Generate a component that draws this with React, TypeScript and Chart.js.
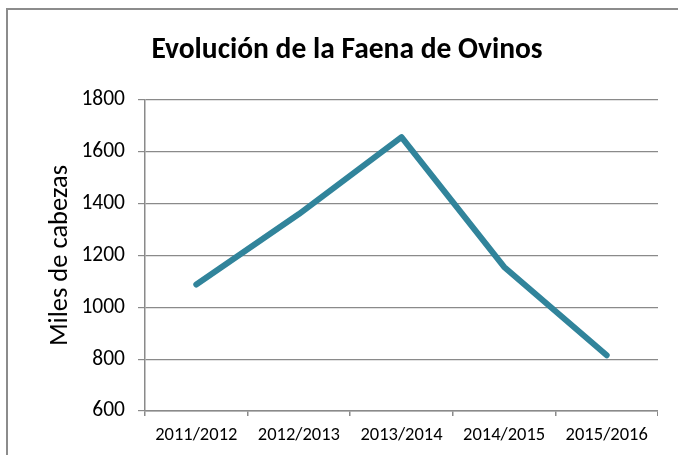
import React, { useEffect, useRef } from "react";
import { Chart, registerables } from "chart.js";

Chart.register(...registerables);

const categories = ["2011/2012", "2012/2013", "2013/2014", "2014/2015", "2015/2016"];
const faenaOvinos = [1088, 1360, 1657, 1156, 815];
const yTicks = [600, 800, 1000, 1200, 1400, 1600, 1800];

const FONT = "Carlito, Calibri, Lato, 'Open Sans', sans-serif";
const GRID = "#8a8a8a";

export default function App() {
  const canvasRef = useRef<HTMLCanvasElement | null>(null);

  useEffect(() => {
    const canvas = canvasRef.current;
    if (!canvas) return;
    const chart = new Chart(canvas, {
      type: "line",
      data: {
        labels: categories,
        datasets: [
          {
            label: "Faena de Ovinos",
            data: faenaOvinos,
            borderColor: "#31849B",
            backgroundColor: "#31849B",
            borderWidth: 6,
            borderCapStyle: "round",
            borderJoinStyle: "round",
            pointRadius: 0,
            pointHoverRadius: 0,
            tension: 0,
          },
        ],
      },
      options: {
        animation: false,
        responsive: false,
        maintainAspectRatio: false,
        layout: { padding: 0 },
        plugins: {
          legend: { display: false },
          tooltip: { enabled: false },
          title: {
            display: true,
            text: "Evolución de la Faena de Ovinos",
            color: "#000000",
            font: { family: FONT, size: 29.5, weight: "bold", lineHeight: 1.2 },
            padding: { top: 33.3, bottom: 31.3 },
          },
        },
        scales: {
          x: {
            type: "category",
            offset: true,
            grid: {
              offset: true,
              drawOnChartArea: false,
              drawTicks: true,
              tickLength: 5,
              color: GRID,
              lineWidth: 1.5,
            },
            border: { display: true, color: GRID, width: 1.5 },
            ticks: {
              color: "#000000",
              font: { family: FONT, size: 18.5 },
              padding: 8,
              maxRotation: 0,
              autoSkip: false,
            },
            afterFit: (scale: any) => {
              scale.height = 44;
            },
          },
          y: {
            min: yTicks[0],
            max: yTicks[yTicks.length - 1],
            afterBuildTicks: (scale: any) => {
              scale.ticks = yTicks.map((v) => ({ value: v }));
            },
            grid: {
              color: GRID,
              lineWidth: 1.2,
              drawTicks: true,
              tickLength: 7,
            },
            border: { display: true, color: GRID, width: 1.5 },
            ticks: {
              color: "#000000",
              font: { family: FONT, size: 21.5 },
              padding: 13,
              callback: (value: any) => String(value),
            },
            title: {
              display: true,
              text: "Miles de cabezas",
              color: "#000000",
              font: { family: FONT, size: 26.5, lineHeight: 1.2 },
              padding: { top: 8, bottom: 0 },
            },
            afterFit: (scale: any) => {
              scale.width = 109;
            },
          },
        },
      },
    });
    return () => chart.destroy();
  }, []);

  return (
    <div
      style={{
        position: "fixed",
        left: 0,
        top: 0,
        width: 678,
        height: 455,
        overflow: "hidden",
        background: "#ffffff",
      }}
    >
      <div
        style={{
          position: "absolute",
          left: 6,
          top: 8,
          width: 720,
          height: 500,
          borderTop: "2px solid #8c8c8c",
          borderLeft: "2px solid #8c8c8c",
          boxSizing: "border-box",
        }}
      />
      <canvas
        ref={canvasRef}
        width={622}
        height={455}
        style={{ position: "absolute", left: 36, top: 0, width: 622, height: 455 }}
      />
    </div>
  );
}
